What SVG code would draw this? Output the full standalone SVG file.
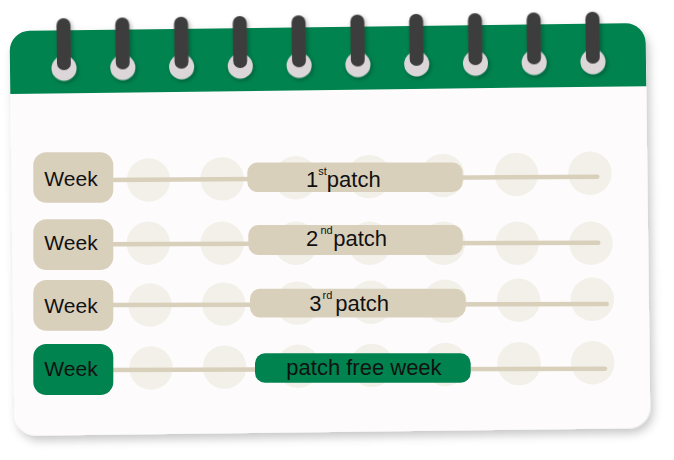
<svg xmlns="http://www.w3.org/2000/svg" width="674" height="460" viewBox="0 0 674 460">
  <defs>
    <filter id="shadow" x="-10%" y="-10%" width="120%" height="125%">
      <feDropShadow dx="3" dy="5" stdDeviation="5" flood-color="#000" flood-opacity="0.22"/>
    </filter>
    <filter id="ringShadow" x="-50%" y="-30%" width="200%" height="160%">
      <feDropShadow dx="1.5" dy="2" stdDeviation="2" flood-color="#000" flood-opacity="0.3"/>
    </filter>
    <style>
      .paper { fill: #fdfbfc; }
      .header { fill: #00834f; }
      .hole { fill: #dcd6d9; }
      .bar { stroke: #3c3c3c; stroke-width: 14; stroke-linecap: round; fill: none; }
      .day { fill: #f2f0e9; }
      .link { stroke: #d9d0bc; stroke-width: 4.5; stroke-linecap: round; fill: none; }
      .box { fill: #d9d0bc; }
      .boxg { fill: #00834f; }
      .t { font-family: "Liberation Sans", Arial, sans-serif; font-size: 21px; fill: #111; }
      .p { font-size: 22px; }
      .sup { font-size: 11px; }
    </style>
  </defs>

  <g id="calendar" transform="rotate(-0.7 330 230)">
    <rect class="paper" x="12" y="27" width="636" height="405" rx="22" filter="url(#shadow)"/>
    <path class="header" d="M12,90 V47 A20,20 0 0 1 32,27 H628 A20,20 0 0 1 648,47 V90 Z"/>
    <g id="rings" filter="url(#ringShadow)">
      <circle class="hole" cx="66" cy="65" r="12.5"/>
      <circle class="hole" cx="124.8" cy="65" r="12.5"/>
      <circle class="hole" cx="183.6" cy="65" r="12.5"/>
      <circle class="hole" cx="242.3" cy="65" r="12.5"/>
      <circle class="hole" cx="301.1" cy="65" r="12.5"/>
      <circle class="hole" cx="359.9" cy="65" r="12.5"/>
      <circle class="hole" cx="418.7" cy="65" r="12.5"/>
      <circle class="hole" cx="477.5" cy="65" r="12.5"/>
      <circle class="hole" cx="536.2" cy="65" r="12.5"/>
      <circle class="hole" cx="595" cy="65" r="12.5"/>
      <line class="bar" x1="66" y1="22" x2="66" y2="60"/>
      <line class="bar" x1="124.8" y1="22" x2="124.8" y2="60"/>
      <line class="bar" x1="183.6" y1="22" x2="183.6" y2="60"/>
      <line class="bar" x1="242.3" y1="22" x2="242.3" y2="60"/>
      <line class="bar" x1="301.1" y1="22" x2="301.1" y2="60"/>
      <line class="bar" x1="359.9" y1="22" x2="359.9" y2="60"/>
      <line class="bar" x1="418.7" y1="22" x2="418.7" y2="60"/>
      <line class="bar" x1="477.5" y1="22" x2="477.5" y2="60"/>
      <line class="bar" x1="536.2" y1="22" x2="536.2" y2="60"/>
      <line class="bar" x1="595" y1="22" x2="595" y2="60"/>
    </g>
  </g>

  <g id="days">
    <circle class="day" cx="148.5" cy="180" r="21.7"/>
    <circle class="day" cx="222.1" cy="178.9" r="21.7"/>
    <circle class="day" cx="295.7" cy="177.8" r="21.7"/>
    <circle class="day" cx="369.2" cy="176.6" r="21.7"/>
    <circle class="day" cx="442.8" cy="175.5" r="21.7"/>
    <circle class="day" cx="516.4" cy="174.4" r="21.7"/>
    <circle class="day" cx="590" cy="173.3" r="21.7"/>

    <circle class="day" cx="148.3" cy="243.3" r="21.7"/>
    <circle class="day" cx="222.1" cy="243.3" r="21.7"/>
    <circle class="day" cx="295.9" cy="243.3" r="21.7"/>
    <circle class="day" cx="369.7" cy="243.3" r="21.7"/>
    <circle class="day" cx="443.4" cy="243.3" r="21.7"/>
    <circle class="day" cx="517.2" cy="243.3" r="21.7"/>
    <circle class="day" cx="591" cy="243.3" r="21.7"/>

    <circle class="day" cx="150" cy="305" r="21.7"/>
    <circle class="day" cx="223.7" cy="304.1" r="21.7"/>
    <circle class="day" cx="297.4" cy="303.1" r="21.7"/>
    <circle class="day" cx="371.2" cy="302.2" r="21.7"/>
    <circle class="day" cx="444.9" cy="301.2" r="21.7"/>
    <circle class="day" cx="518.6" cy="300.3" r="21.7"/>
    <circle class="day" cx="592.3" cy="299.3" r="21.7"/>

    <circle class="day" cx="151" cy="368" r="21.7"/>
    <circle class="day" cx="224.6" cy="367.1" r="21.7"/>
    <circle class="day" cx="298.2" cy="366.2" r="21.7"/>
    <circle class="day" cx="371.9" cy="365.4" r="21.7"/>
    <circle class="day" cx="445.5" cy="364.5" r="21.7"/>
    <circle class="day" cx="519.1" cy="363.6" r="21.7"/>
    <circle class="day" cx="592.7" cy="362.7" r="21.7"/>
  </g>

  <g id="connectors">
    <line class="link" x1="105" y1="180" x2="597.3" y2="176.7"/>
    <line class="link" x1="105" y1="244.3" x2="598.3" y2="242.7"/>
    <line class="link" x1="105" y1="305" x2="606.7" y2="304"/>
    <line class="link" x1="105" y1="370" x2="605" y2="368.7"/>
  </g>

  <g id="week-1">
    <rect class="box" x="33.3" y="152.3" width="80" height="50.4" rx="13"/>
    <text class="t" x="71" y="185.7" text-anchor="middle">Week</text>
  </g>
  <g id="week-2">
    <rect class="box" x="33.3" y="219.3" width="80" height="50.7" rx="13"/>
    <text class="t" x="71" y="250" text-anchor="middle">Week</text>
  </g>
  <g id="week-3">
    <rect class="box" x="33.3" y="280" width="80" height="50.7" rx="13"/>
    <text class="t" x="71" y="313.3" text-anchor="middle">Week</text>
  </g>
  <g id="week-4">
    <rect class="boxg" x="33.3" y="344" width="80" height="51" rx="13"/>
    <text class="t" x="71" y="375.7" text-anchor="middle">Week</text>
  </g>

  <g id="patch-1">
    <rect class="box" x="247.3" y="162.5" width="215.4" height="29.5" rx="10"/>
    <text class="t p" x="305.9" y="187.3">1<tspan class="sup" x="318.2" y="175.3">st</tspan><tspan x="326.8" y="187.3">patch</tspan></text>
  </g>
  <g id="patch-2">
    <rect class="box" x="248.3" y="225" width="214.4" height="30" rx="10"/>
    <text class="t p" x="306" y="246">2<tspan class="sup" x="320.5" y="234">nd</tspan><tspan x="333.2" y="246">patch</tspan></text>
  </g>
  <g id="patch-3">
    <rect class="box" x="250" y="288.7" width="215.7" height="28.8" rx="10"/>
    <text class="t p" x="309.3" y="311">3<tspan class="sup" x="322.6" y="298.5">rd</tspan><tspan x="335.2" y="311">patch</tspan></text>
  </g>
  <g id="patch-free">
    <rect class="boxg" x="255" y="353.3" width="215.7" height="29.4" rx="10"/>
    <text class="t p" x="286.3" y="375">patch free week</text>
  </g>
</svg>
